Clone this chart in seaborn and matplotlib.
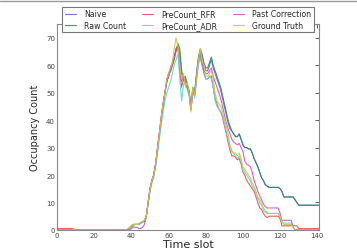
import numpy as np
import pandas as pd
import matplotlib
matplotlib.use('Agg')
import matplotlib.pyplot as plt
from matplotlib.lines import Line2D
import seaborn as sns

# time slots 0..141
time_slot = np.arange(142)

naive = [
    0, 0, 0, 0, 0, 0, 0, 0, 0, 0,
    0, 0, 0, 0, 0, 0, 0, 0, 0, 0,
    0, 0, 0, 0, 0, 0, 0, 0, 0, 0,
    0, 0, 0, 0, 0, 0, 0, 0, 0, 0.5,
    1.5, 2, 2, 2, 2, 2.5, 3, 3, 5, 10,
    15, 18, 20, 24, 29, 35, 40, 45, 50, 54,
    56, 58, 60, 63, 66, 67, 64, 57, 55, 55,
    53, 50, 44, 51, 50, 56, 62, 65, 63, 60,
    58, 58, 60, 62, 59, 57, 55, 53, 51, 48,
    45, 42, 39, 37, 36, 35, 34, 34, 35, 33,
    31, 30, 30, 29.5, 29.5, 28, 26, 24.5, 23, 21,
    19, 18, 16.5, 16, 15.5, 15.5, 15.5, 15.5, 15.5, 15.5,
    15, 14, 12, 12, 12, 12, 12, 12, 11, 10,
    9, 9, 9, 9, 9, 9, 9, 9, 9, 9,
    9, 9,
]

raw_count = [
    0, 0, 0, 0, 0, 0, 0, 0, 0, 0,
    0, 0, 0, 0, 0, 0, 0, 0, 0, 0,
    0, 0, 0, 0, 0, 0, 0, 0, 0, 0,
    0, 0, 0, 0, 0, 0, 0, 0, 0, 0.5,
    1.5, 2, 2, 2, 2, 2.5, 3, 3, 5, 10,
    15, 18, 20, 24, 29, 35, 40, 45, 50, 54,
    57, 58, 60, 62, 65, 68, 66, 58, 55, 56,
    53, 51, 45, 52, 50, 57, 63, 66, 64, 61,
    59, 59, 61, 63, 60, 58, 56, 54, 52, 49,
    46, 43, 40, 38, 36, 35, 34, 34, 35, 33,
    31, 30, 30, 29.5, 29.5, 28, 26, 24.5, 23, 21,
    19, 18, 16.5, 16, 15.5, 15.5, 15.5, 15.5, 15.5, 15.5,
    15, 14, 12, 12, 12, 12, 12, 12, 11, 10,
    9, 9, 9, 9, 9, 9, 9, 9, 9, 9,
    9, 9,
]

precount_rfr = [
    0.5, 0.5, 0.5, 0.5, 0.5, 0.5, 0.5, 0.5, 0.5, 0.3,
    0, 0, 0, 0, 0, 0, 0, 0, 0, 0,
    0, 0, 0, 0, 0, 0, 0, 0, 0, 0,
    0, 0, 0, 0, 0, 0, 0, 0, 0, 0.5,
    1, 1.5, 2, 2, 2, 2.5, 3, 3.5, 5, 10,
    15, 18, 20, 24, 30, 35, 41, 46, 50, 54,
    56, 58, 60, 63, 66, 67, 58, 52, 55, 53,
    52, 50, 44, 50, 49, 55, 61, 63, 60, 57,
    55, 55, 56, 56, 52, 48, 46, 44, 43, 41,
    38, 35, 32, 29, 27, 27, 26.5, 25.5, 26, 24,
    21, 20, 18, 17, 16, 15, 14, 12, 10, 8,
    7.5, 6, 5, 4.5, 5, 5, 5, 5, 5, 5,
    4, 1.5, 1.5, 1.5, 1.5, 1.5, 1.5, 1.5, 1.5, 1.5,
    0.5, 0.5, 0.5, 0.5, 0.5, 0.5, 0.5, 0.5, 0.5, 0.5,
    0.5, 0.5,
]

precount_adr = [
    0, 0, 0, 0, 0, 0, 0, 0, 0, 0,
    0, 0, 0, 0, 0, 0, 0, 0, 0, 0,
    0, 0, 0, 0, 0, 0, 0, 0, 0, 0,
    0, 0, 0, 0, 0, 0, 0, 0, 0, 0.5,
    1, 1.5, 2, 2, 2, 2.5, 3, 3.5, 5, 10,
    14, 17, 19, 23, 28, 33, 38, 43, 47, 50,
    52, 54, 57, 60, 62, 64, 55, 47, 53, 54,
    51, 49, 44, 51, 48, 54, 60, 63, 60, 58,
    55, 55, 56, 55, 52, 47, 45, 44, 43, 42,
    39, 36, 33, 30, 28.5, 28, 27, 26, 27, 25,
    22, 21, 20, 19, 18, 16, 15, 13, 11.5, 10,
    9, 7, 6.5, 6, 6, 6, 6, 6, 6, 6,
    4.5, 2.5, 2.5, 2.5, 2.5, 2.5, 2.5, 1, 0, 0,
    0, 0, 0, 0, 0, 0, 0, 0, 0, 0,
    0, 0,
]

past_correction = [
    0, 0, 0, 0, 0, 0, 0, 0, 0, 0,
    0, 0, 0, 0, 0, 0, 0, 0, 0, 0,
    0, 0, 0, 0, 0, 0, 0, 0, 0, 0,
    0, 0, 0, 0, 0, 0, 0, 0, 0, 0,
    0.5, 1, 1, 1, 0.5, 0.5, 1, 2, 5, 10,
    15, 18, 20, 24, 30, 35, 41, 46, 50, 55,
    57, 59, 61, 63, 66, 66, 60, 54, 56, 54,
    52, 50, 44, 51, 49, 56, 62, 64, 61, 58,
    57, 57, 58, 59, 56, 54, 52, 50, 48, 45,
    42, 39, 37, 35, 33, 32, 31.5, 31, 31.5, 30,
    28.5, 25, 24, 23.5, 23, 21, 18, 16, 14, 12.5,
    11, 9.5, 8.5, 8, 8, 8, 8, 8, 8, 8,
    6, 3.5, 3.5, 3.5, 3.5, 3.5, 3.5, 1, 0, 0,
    0, 0, 0, 0, 0, 0, 0, 0, 0, 0,
    0, 0,
]

ground_truth = [
    0, 0, 0, 0, 0, 0, 0, 0, 0, 0,
    0, 0, 0, 0, 0, 0, 0, 0, 0, 0,
    0, 0, 0, 0, 0, 0, 0, 0, 0, 0,
    0, 0, 0, 0, 0, 0, 0, 0, 0.5, 1,
    1.5, 2, 2, 2, 2.5, 2.5, 3, 3.5, 5, 10,
    15, 18, 20, 24, 30, 35, 41, 46, 50, 55,
    57, 59, 61, 66, 70, 67, 60, 55, 57, 52,
    54, 50, 43, 52, 49, 55, 62, 66, 62, 60,
    56, 56, 57, 58, 55, 50, 47, 46, 45, 43,
    40, 38, 35, 31, 29, 28, 28, 27, 28, 26,
    23, 22, 21, 20, 19, 17, 16, 14, 12, 11,
    10, 8, 7, 6.5, 6, 6, 6, 6, 6, 6,
    5, 3, 2, 2, 2, 2, 2, 1, 0, 0,
    0, 0, 0, 0, 0, 0, 0, 0, 0, 0,
    0, 0,
]

names = ['Naive', 'Raw Count', 'PreCount_RFR', 'PreCount_ADR', 'Past Correction', 'Ground Truth']
series = [naive, raw_count, precount_rfr, precount_adr, past_correction, ground_truth]
colors = ['#6f5fd8', '#2f8a5a', '#ee4c50', '#5ed6d6', '#d24ed2', '#caca3a']

df = pd.concat([pd.DataFrame({'Time slot': time_slot, 'count': s, 'method': n})
                for n, s in zip(names, series)], ignore_index=True)

sns.set_style('white')
plt.rcParams['font.family'] = ['DejaVu Sans']

fig = plt.figure(figsize=(3.57, 2.51), dpi=100)
ax = fig.add_axes([0.16, 0.08, 0.734, 0.82])

sns.lineplot(data=df, x='Time slot', y='count', hue='method', hue_order=names,
             palette=dict(zip(names, colors)), linewidth=0.8, alpha=0.9, ax=ax)

ax.set_xlim(0, 141)
ax.set_ylim(0, 75)
ax.set_xticks(range(0, 141, 20))
ax.set_yticks(range(0, 71, 10))
ax.tick_params(direction='in', length=3, width=0.6, labelsize=5, colors='#444444',
               top=True, right=True, pad=1.5)
for s in ax.spines.values():
    s.set_color('#888888')
    s.set_linewidth(0.8)
ax.set_xlabel('Time slot', fontsize=8, labelpad=1)
ax.set_ylabel('Occupancy Count', fontsize=7, labelpad=4)

leg = ax.legend(loc='upper center', bbox_to_anchor=(0.5, 1.085), ncol=3, fontsize=5.6,
                frameon=True, fancybox=False, borderaxespad=0, handlelength=1.4,
                columnspacing=2.1, handletextpad=1.0, borderpad=0.35, labelspacing=0.3)
leg.get_frame().set_edgecolor('#777777')
leg.get_frame().set_linewidth(0.8)
leg.get_frame().set_alpha(1)

fig.add_artist(Line2D([0, 1], [0.994, 0.994], transform=fig.transFigure,
                      color='#999999', linewidth=1))

fig.savefig('out.png', dpi=100)
